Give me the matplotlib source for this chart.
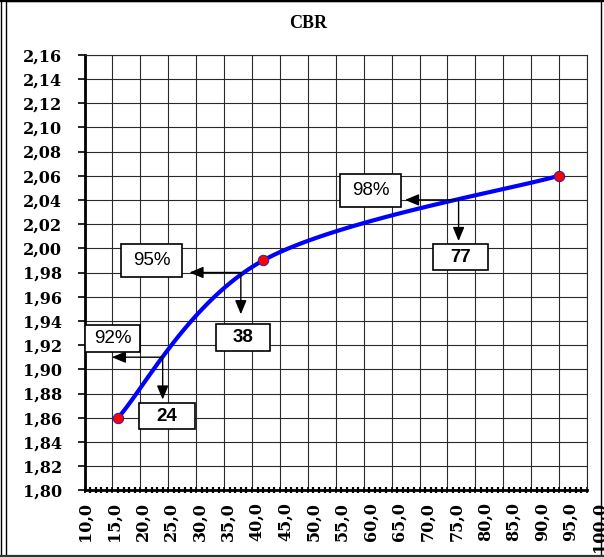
import numpy as np
import matplotlib
matplotlib.use('Agg')
import matplotlib.pyplot as plt
from matplotlib.patches import Rectangle
from matplotlib.lines import Line2D
from matplotlib.ticker import MultipleLocator, FuncFormatter
from matplotlib.transforms import ScaledTranslation


# measured CBR points: index vs dry density
cbr = [16, 42, 95]
density = [1.86, 1.99, 2.06]

# compaction levels and the CBR
levels = ['92%', '95%', '98%']
level_density = [1.91, 1.98, 2.04]
level_cbr = [24, 38, 77]

x_ticks = list(range(10, 101, 5))

# where the arrow heads end and where the boxes sit (data units, box size in px)
h_tip = [14.9, 28.8, 67.4]
v_tip = [1.875, 1.9455, 2.006]
pct_box = [(15.0, 1.9256, 55, 27), (22.0, 1.9903, 61, 33), (61.3, 2.0476, 61, 33)]
val_box = [(24.8, 1.8612, 56, 26), (38.4, 1.9263, 54, 27), (77.4, 1.9926, 55, 26)]

W, H = 604, 557


def excel_smooth(xs, ys, n=60):
    # bezier through the points, like excel's "smoothed line"
    p = np.column_stack([xs, ys]).astype(float)
    out = []
    for i in range(len(p) - 1):
        p0 = p[i - 1] if i > 0 else p[i]
        p1, p2 = p[i], p[i + 1]
        p3 = p[i + 2] if i + 2 < len(p) else p[i + 1]
        c1 = p1 + (p2 - p0) / 6
        c2 = p2 - (p3 - p1) / 6
        t = np.linspace(0, 1, n)[:, None]
        seg = (1 - t) ** 3 * p1 + 3 * t * (1 - t) ** 2 * c1 + 3 * t ** 2 * (1 - t) * c2 + t ** 3 * p2
        out.append(seg if i == 0 else seg[1:])
    out = np.vstack(out)
    return out[:, 0], out[:, 1]


def comma(v, fmt):
    return (fmt % v).replace('.', ',')


fig = plt.figure(figsize=(W / 100, H / 100), dpi=100)
ax = fig.add_axes([84.5 / W, 1 - 490.3 / H, (587 - 84.5) / W, (490.3 - 54.7) / H])

ax.set_xlim(10, 100)
ax.set_ylim(1.80, 2.16)
ax.set_xticks(x_ticks)
ax.xaxis.set_minor_locator(MultipleLocator(1))
ax.yaxis.set_major_locator(MultipleLocator(0.02))
ax.yaxis.set_major_formatter(FuncFormatter(lambda v, p: comma(v, '%.2f')))
ax.set_xticklabels([])

ax.grid(True, which='major', color='#2a2a2a', lw=0.8)
ax.set_axisbelow(True)
for s in ['top', 'right']:
    ax.spines[s].set_color('#2a2a2a')
    ax.spines[s].set_linewidth(0.8)
ax.spines['left'].set_linewidth(2)
ax.spines['bottom'].set_linewidth(2)

lab_font = dict(family='DejaVu Serif', weight='bold', size=11.5)
ax.tick_params(axis='y', which='major', direction='out', length=5, width=1.2, pad=11)
ax.tick_params(axis='x', which='major', direction='inout', length=5, width=1.2)
ax.tick_params(axis='x', which='minor', direction='inout', length=4, width=1.6)
for t in ax.get_yticklabels():
    t.set(**lab_font)

# x labels drift a little to the right as in the original
for v in x_ticks:
    dx = (1 + (v - 10) / 90 * 11) / 100
    tr = ax.get_xaxis_transform() + ScaledTranslation(dx, -0.12, fig.dpi_scale_trans)
    ax.text(v, 0, comma(v, '%.1f'), transform=tr, rotation=90, ha='center', va='top',
            clip_on=False, **lab_font)

sx, sy = excel_smooth(cbr, density)
ax.plot(sx, sy, color='#0000ff', lw=3, solid_capstyle='round', zorder=4)
ax.plot(cbr, density, 'o', color='#ff0000', markersize=7.5, markeredgecolor='#2020c0',
        markeredgewidth=0.7, zorder=6)

# px -> data unit scale
px_x = (587 - 84.5) / 90
px_y = (490.3 - 54.7) / 0.36

arr = dict(arrowstyle='-|>,head_length=0.6,head_width=0.25', color='black', lw=1,
           mutation_scale=14, shrinkA=0, shrinkB=0)
for i in range(len(levels)):
    x0, y0 = level_cbr[i], level_density[i]
    ax.annotate('', xy=(h_tip[i], y0), xytext=(x0, y0), arrowprops=arr, zorder=5)
    ax.annotate('', xy=(x0, v_tip[i]), xytext=(x0, y0), arrowprops=arr, zorder=5)

    cx, cy, bw, bh = pct_box[i]
    ax.add_patch(Rectangle((cx - bw / 2 / px_x, cy - bh / 2 / px_y), bw / px_x, bh / px_y,
                           fc='white', ec='black', lw=1.2, zorder=5))
    ax.text(cx, cy, levels[i], ha='center', va='center', family='Liberation Sans',
            size=13.5, zorder=6)

    cx, cy, bw, bh = val_box[i]
    ax.add_patch(Rectangle((cx - bw / 2 / px_x, cy - bh / 2 / px_y), bw / px_x, bh / px_y,
                           fc='white', ec='black', lw=1.2, zorder=5))
    ax.text(cx, cy, str(level_cbr[i]), ha='center', va='center', family='Liberation Sans',
            weight='bold', size=13.5, zorder=6)

fig.text(308 / W, 1 - 24 / H, 'CBR', ha='center', va='center', family='Liberation Serif',
         weight='bold', size=13)

# chart frame
fig.patches.append(Rectangle((5.5 / W, 1 - 555.5 / H), (601 - 5.5) / W, (555.5 - 1) / H,
                             transform=fig.transFigure, fill=False, ec='black', lw=1))
fig.lines.append(Line2D([0.5 / W, 0.5 / W], [0, 1], transform=fig.transFigure, color='black', lw=1))
fig.lines.append(Line2D([0, 1], [1 - 0.8 / H, 1 - 0.8 / H], transform=fig.transFigure, color='black', lw=1.6))
fig.lines.append(Line2D([0, 1], [1.2 / H, 1.2 / H], transform=fig.transFigure, color='#333333', lw=1.6))

fig.savefig('out.png', dpi=100)
